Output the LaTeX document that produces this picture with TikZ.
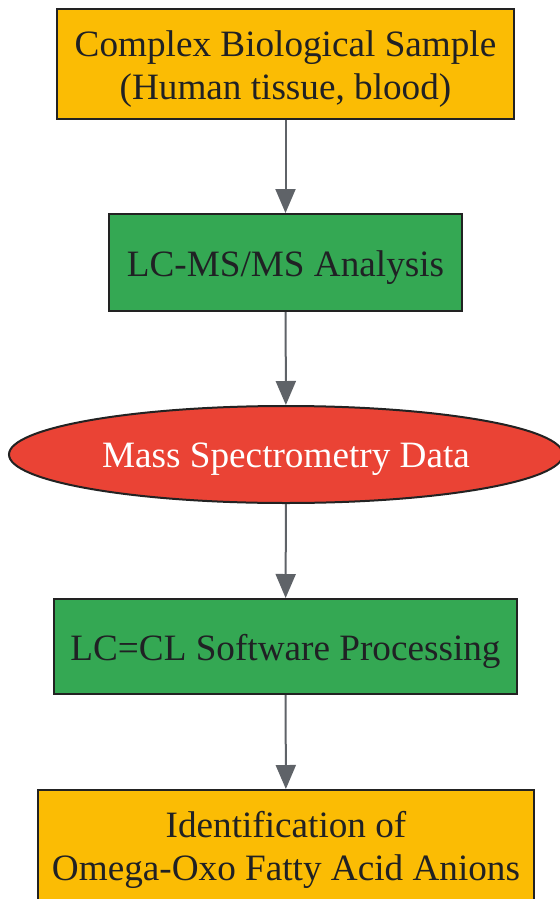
\documentclass[tikz,border=0pt]{standalone}
\usepackage{fontspec}
\setmainfont{Liberation Serif}
\usetikzlibrary{shapes.geometric,arrows.meta}
\definecolor{ylw}{HTML}{FBBC04}
\definecolor{grn}{HTML}{34A853}
\definecolor{rd}{HTML}{EA4335}
\definecolor{edge}{HTML}{222222}
\definecolor{arr}{HTML}{5F6368}
\definecolor{txt}{HTML}{202124}

\begin{document}
\begin{tikzpicture}[
x=0.5pt,
y=-0.5pt,
font=\fontsize{18.6}{21.5}\selectfont,
>={Triangle[length=12pt,width=10pt]}
]

\tikzstyle{b} = [draw=edge, line width=1pt, shape=rectangle, inner sep=0pt]
\tikzstyle{o} = [draw=edge, line width=1pt, shape=ellipse, inner sep=0pt]
\tikzstyle{t} = [align=center, text=txt, yshift=-2.5pt]
\tikzstyle{a} = [->, draw=arr, line width=1pt]

\useasboundingbox (0,0) rectangle (560,899);

\node[b, fill=ylw, minimum width=228.5pt, minimum height=55pt,
	label={[t]center:Complex Biological Sample\\(Human tissue, blood)}] (sample) at (285.5,64) {};
\node[b, fill=grn, minimum width=176.5pt, minimum height=48.5pt,
	label={[t]center:LC-MS/MS Analysis}] (lcms) at (285.5,262.5) {};
\node[o, fill=rd, minimum width=277pt, minimum height=48.5pt,
	label={[t, text=white]center:Mass Spectrometry Data}] (msdata) at (286,454.5) {};
\node[b, fill=grn, minimum width=231.5pt, minimum height=47.5pt,
	label={[t]center:LC=CL Software Processing}] (lccl) at (285.5,646.5) {};
\node[b, fill=ylw, minimum width=248pt, minimum height=55pt,
	label={[t]center:Identification of\\Omega-Oxo Fatty Acid Anions}] (ident) at (286,845) {};

\draw[a] (sample) -- (lcms);
\draw[a] (lcms) -- (msdata);
\draw[a] (msdata) -- (lccl);
\draw[a] (lccl) -- (ident);

\end{tikzpicture}
\end{document}
